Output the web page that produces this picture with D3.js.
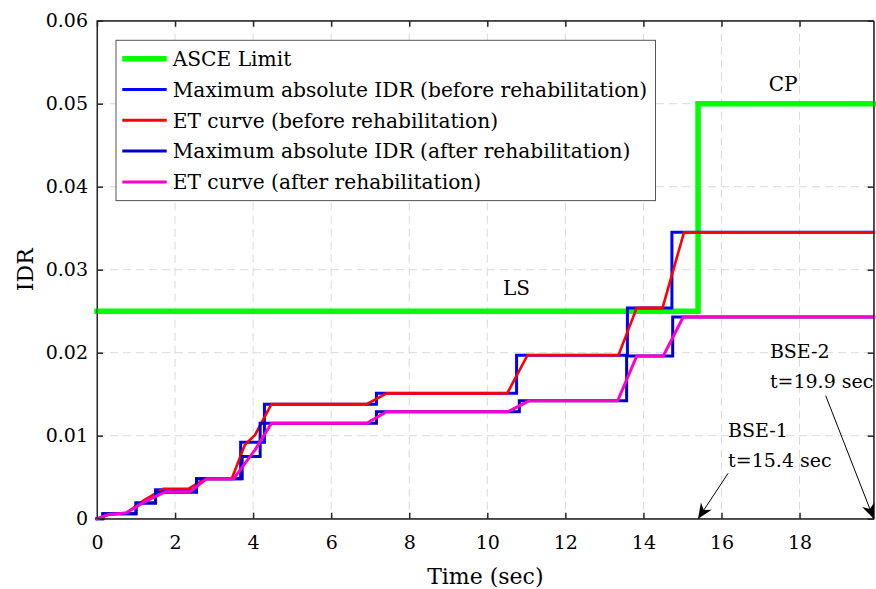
<!DOCTYPE html>
<html>
<head>
<meta charset="utf-8">
<script src="https://cdn.jsdelivr.net/npm/d3@7"></script>
<style>
  body { margin: 0; background: #fff; }
  text { font-family: "DejaVu Serif", "Liberation Serif", serif; fill: #000; }
</style>
</head>
<body>
<svg width="876" height="589"></svg>
<script>
// ASCE limit (LS then CP)
var limitT = [0, 15.4, 15.4, 19.9];
var limitV = [0.025, 0.025, 0.05, 0.05];

// maximum absolute IDR, before rehabilitation (step)
var beforeT = [0, 0.15, 1.0, 1.5, 2.55, 3.68, 4.29, 7.16, 10.75, 13.59, 14.73, 19.9];
var beforeV = [0, 0.0006, 0.0019, 0.0035, 0.0048, 0.0092, 0.0138, 0.0151, 0.0197, 0.0254, 0.0345, 0.0345];

// ET curve, before rehabilitation
var etBeforeT = [0, 0.3, 0.75, 1.2, 1.7, 2.34, 2.77, 3.45, 3.79, 4.05, 4.47, 6.91, 7.42, 10.51, 11.03, 13.36, 13.83, 14.49, 15.04, 19.9];
var etBeforeV = [0, 0.0005, 0.0007, 0.0022, 0.0036, 0.0036, 0.0048, 0.0048, 0.0089, 0.0101, 0.0138, 0.0138, 0.0151, 0.0151, 0.0197, 0.0197, 0.0254, 0.0254, 0.0345, 0.0345];

// maximum absolute IDR, after rehabilitation (step)
var afterT = [0, 0.15, 1.0, 1.5, 2.55, 3.72, 4.18, 7.16, 10.82, 13.57, 14.75, 19.9];
var afterV = [0, 0.0006, 0.0019, 0.0032, 0.0048, 0.0075, 0.0115, 0.0129, 0.0142, 0.0196, 0.0243, 0.0243];

// ET curve, after rehabilitation
var etAfterT = [0, 0.3, 0.75, 1.2, 1.76, 2.38, 2.81, 3.5, 4.05, 4.47, 6.91, 7.42, 10.53, 11.07, 13.34, 13.83, 14.51, 15.02, 19.9];
var etAfterV = [0, 0.0005, 0.0007, 0.002, 0.00325, 0.00325, 0.0048, 0.0048, 0.0083, 0.0115, 0.0115, 0.0129, 0.0129, 0.0142, 0.0142, 0.0196, 0.0196, 0.0243, 0.0243];

var xTicks = [0, 2, 4, 6, 8, 10, 12, 14, 16, 18];
var yTicks = [0, 0.01, 0.02, 0.03, 0.04, 0.05, 0.06];

var legendNames = ["ASCE Limit",
  "Maximum absolute IDR (before rehabilitation)",
  "ET curve (before rehabilitation)",
  "Maximum absolute IDR (after rehabilitation)",
  "ET curve (after rehabilitation)"];

var svg = d3.select("svg"),
    margin = {left: 97, right: 2.3, top: 20.7, bottom: 70.3},
    width = +svg.attr("width") - margin.left - margin.right,
    height = +svg.attr("height") - margin.top - margin.bottom;

var x = d3.scaleLinear().domain([0, 19.9]).range([0, width]);
var y = d3.scaleLinear().domain([0, 0.06]).range([height, 0]);

var g = svg.append("g").attr("transform", "translate(" + margin.left + "," + margin.top + ")");

// grid
g.append("g").selectAll("line").data(xTicks.slice(1)).enter().append("line")
    .attr("x1", function (d) { return x(d); }).attr("x2", function (d) { return x(d); })
    .attr("y1", 0).attr("y2", height)
    .attr("stroke", "#dadada").attr("stroke-dasharray", "8,5");
g.append("g").selectAll("line").data(yTicks.slice(1, -1)).enter().append("line")
    .attr("y1", function (d) { return y(d); }).attr("y2", function (d) { return y(d); })
    .attr("x1", 0).attr("x2", width)
    .attr("stroke", "#dadada").attr("stroke-dasharray", "8,5");

// axes
var fmtY = function (d) { return d === 0 ? "0" : d3.format(".2f")(d); };
var axB = g.append("g").attr("transform", "translate(0," + height + ")")
    .call(d3.axisBottom(x).tickValues(xTicks).tickSizeInner(-6).tickSizeOuter(0).tickPadding(17));
var axT = g.append("g")
    .call(d3.axisTop(x).tickValues(xTicks).tickSizeInner(-6).tickSizeOuter(0).tickFormat(""));
var axL = g.append("g")
    .call(d3.axisLeft(y).tickValues(yTicks).tickSizeInner(-6).tickSizeOuter(0).tickPadding(9).tickFormat(fmtY));
var axR = g.append("g").attr("transform", "translate(" + width + ",0)")
    .call(d3.axisRight(y).tickValues(yTicks).tickSizeInner(-6).tickSizeOuter(0).tickFormat(""));
[axB, axT, axL, axR].forEach(function (a) {
    a.attr("font-family", null);
    a.select(".domain").attr("stroke", "#262626");
    a.selectAll(".tick line").attr("stroke", "#262626").attr("stroke-width", 1.5);
    a.selectAll("text").attr("font-size", 19).attr("fill", "#000");
});
axB.selectAll(".tick").filter(function (d) { return d === 0; }).select("line").remove();

// series
function pts(ts, vs) { return ts.map(function (t, i) { return [t, vs[i]]; }); }
var line = d3.line().x(function (d) { return x(d[0]); }).y(function (d) { return y(d[1]); });
var stepLine = d3.line().curve(d3.curveStepAfter).x(function (d) { return x(d[0]); }).y(function (d) { return y(d[1]); });

var series = [
  {data: pts(limitT, limitV), gen: line, color: "#00ff00", w: 5.5},
  {data: pts(beforeT, beforeV), gen: stepLine, color: "#0000ff", w: 3},
  {data: pts(etBeforeT, etBeforeV), gen: line, color: "#ff0000", w: 2.6},
  {data: pts(afterT, afterV), gen: stepLine, color: "#0000c4", w: 3},
  {data: pts(etAfterT, etAfterV), gen: line, color: "#ff00cc", w: 3}
];
series.forEach(function (s) {
    g.append("path").datum(s.data).attr("d", s.gen)
        .attr("fill", "none").attr("stroke", s.color).attr("stroke-width", s.w)
        .attr("stroke-linejoin", "miter").attr("stroke-linecap", "square");
});

// plot box
g.append("rect").attr("width", width).attr("height", height)
    .attr("fill", "none").attr("stroke", "#262626").attr("stroke-width", 1);

// legend
var leg = svg.append("g").attr("transform", "translate(116,40.3)");
leg.append("rect").attr("width", 539.5).attr("height", 160.3)
    .attr("fill", "#fff").attr("stroke", "#555").attr("stroke-width", 1);
legendNames.forEach(function (name, i) {
    var yy = 18.4 + i * 30.8;
    leg.append("line").attr("x1", 6.3).attr("x2", 50.7).attr("y1", yy).attr("y2", yy)
        .attr("stroke", series[i].color).attr("stroke-width", i === 0 ? 5.5 : 3);
    leg.append("text").attr("x", 56.7).attr("y", yy).attr("dy", "0.36em")
        .attr("font-size", 20.2).text(name);
});

// annotations
g.append("text").attr("x", x(10.75)).attr("y", y(0.0269)).attr("text-anchor", "middle")
    .attr("font-size", 20).text("LS");
g.append("text").attr("x", x(17.58)).attr("y", y(0.0515)).attr("text-anchor", "middle")
    .attr("font-size", 20).text("CP");

svg.append("defs").append("marker").attr("id", "ah")
    .attr("viewBox", "-16 -8 18 16").attr("markerWidth", 18).attr("markerHeight", 16)
    .attr("refX", 0).attr("refY", 0).attr("orient", "auto").attr("markerUnits", "userSpaceOnUse")
  .append("path").attr("d", "M0,0L-15,-6.5L-10.5,0L-15,6.5Z").attr("fill", "#000");

var notes = [
  {lines: ["BSE-1", "t=15.4 sec"], tx: 16.17, ty: 0.00988, from: [16.17, 0.00547], to: 15.4},
  {lines: ["BSE-2", "t=19.9 sec"], tx: 17.24, ty: 0.01936, from: [18.67, 0.01482], to: 19.9}
];
notes.forEach(function (n) {
    n.lines.forEach(function (l, i) {
        g.append("text").attr("x", x(n.tx)).attr("y", y(n.ty) + i * 30)
            .attr("font-size", 19).text(l);
    });
    g.append("line").attr("x1", x(n.from[0])).attr("y1", y(n.from[1]))
        .attr("x2", x(n.to)).attr("y2", y(0))
        .attr("stroke", "#000").attr("stroke-width", 1).attr("marker-end", "url(#ah)");
});

// axis titles
svg.append("text").attr("x", margin.left + width / 2).attr("y", 584)
    .attr("text-anchor", "middle").attr("font-size", 22).text("Time (sec)");
svg.append("text").attr("transform", "translate(33," + (margin.top + height / 2) + ") rotate(-90)")
    .attr("text-anchor", "middle").attr("font-size", 22).text("IDR");
</script>
</body>
</html>
